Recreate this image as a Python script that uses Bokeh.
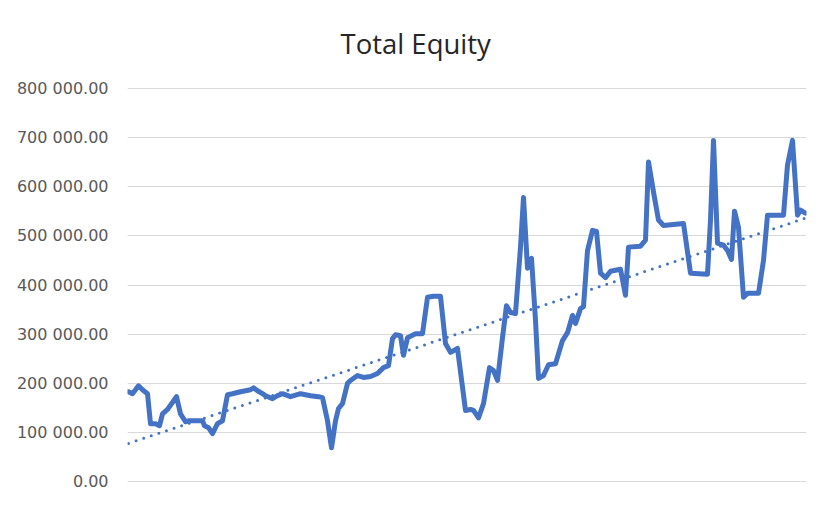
from bokeh.plotting import figure
from bokeh.models import Range1d, FixedTicker
from bokeh.embed import file_html
from bokeh.resources import INLINE

# Period index (approximate trading periods) and total equity values
period = [0, 4, 10, 14, 19, 22, 27, 31, 34, 39, 48, 52, 57, 60, 74, 76, 80, 84, 89, 94,
          99, 104, 112, 122, 125, 129, 134, 137, 144, 149, 154, 162, 172, 182, 190, 194, 199, 203, 207, 210,
          214, 219, 222, 229, 235, 242, 249, 255, 260, 264, 267, 272, 275, 279, 287, 294, 299, 305, 312, 317,
          322, 329, 337, 342, 345, 350, 355, 361, 365, 369, 374, 378, 382, 387, 392, 395, 399, 403, 407, 410,
          415, 420, 427, 434, 439, 444, 447, 452, 455, 459, 464, 468, 472, 477, 482, 492, 497, 500, 512, 517,
          520, 525, 530, 535, 555, 562, 579, 582, 585, 589, 595, 599, 603, 606, 610, 615, 619, 630, 635, 639,
          655, 659, 664, 669, 672, 677]
equity = [183000, 179000, 195000, 187000, 179000, 118000, 118000, 114000, 138000, 147000,
          173000, 138000, 122000, 124000, 124000, 114000, 110000, 98000, 118000, 124000,
          177000, 179000, 183000, 187000, 191000, 185000, 179000, 175000, 169000, 175000,
          179000, 173000, 179000, 175000, 173000, 171000, 124000, 69000, 124000, 149000,
          159000, 200000, 206000, 216000, 212000, 214000, 220000, 232000, 236000, 291000,
          299000, 297000, 257000, 293000, 301000, 301000, 375000, 377000, 377000, 281000,
          263000, 271000, 145000, 147000, 145000, 130000, 159000, 232000, 226000, 206000,
          293000, 358000, 344000, 342000, 477000, 578000, 434000, 454000, 328000, 210000,
          216000, 238000, 240000, 287000, 303000, 338000, 322000, 352000, 356000, 470000,
          511000, 509000, 424000, 415000, 428000, 432000, 379000, 477000, 479000, 491000,
          650000, 589000, 532000, 521000, 525000, 424000, 422000, 532000, 694000, 485000,
          481000, 470000, 452000, 550000, 517000, 375000, 383000, 383000, 450000, 542000,
          542000, 644000, 694000, 542000, 552000, 546000]

# Linear trendline end points
trend_period = [0, 677]
trend_equity = [78000, 536000]

y_ticks = [0, 100000, 200000, 300000, 400000, 500000, 600000, 700000, 800000]
y_tick_labels = ["0.00", "100 000.00", "200 000.00", "300 000.00", "400 000.00",
                 "500 000.00", "600 000.00", "700 000.00", "800 000.00"]

BLUE = "#4472C4"

p = figure(width=815, height=491, output_backend="svg", toolbar_location=None,
           x_range=Range1d(-1, 678), y_range=Range1d(-1500, 801500),
           min_border_left=127, min_border_right=9, min_border_top=87, min_border_bottom=9,
           background_fill_color="white", border_fill_color="white")
p.outline_line_color = None
p.xaxis.visible = False
p.xgrid.visible = False
p.ygrid.grid_line_color = "#d9d9d9"
p.ygrid.grid_line_width = 1

p.yaxis.ticker = FixedTicker(ticks=y_ticks)
p.yaxis.major_label_overrides = {t: l for t, l in zip(y_ticks, y_tick_labels)}
p.yaxis.axis_line_color = None
p.yaxis.major_tick_line_color = None
p.yaxis.minor_tick_line_color = None
p.yaxis.major_tick_out = 0
p.yaxis.major_tick_in = 0
p.yaxis.major_label_standoff = 19
p.yaxis.major_label_text_font = "DejaVu Sans"
p.yaxis.major_label_text_font_size = "16px"
p.yaxis.major_label_text_color = "#595959"

p.title.text = "Total Equity"
p.title.align = "left"
p.title.offset = 213
p.title.standoff = 47
p.title.vertical_align = "top"
p.title.text_font = "Open Sans"
p.title.text_font_size = "27.5px"
p.title.text_font_style = "normal"
p.title.text_color = "#262626"

p.line(trend_period, trend_equity, line_color=BLUE, line_width=3,
       line_dash="0 8", line_cap="round")
p.line(period, equity, line_color=BLUE, line_width=5, line_join="round", line_cap="round")

open("out.html", "w").write(file_html(p, INLINE))
